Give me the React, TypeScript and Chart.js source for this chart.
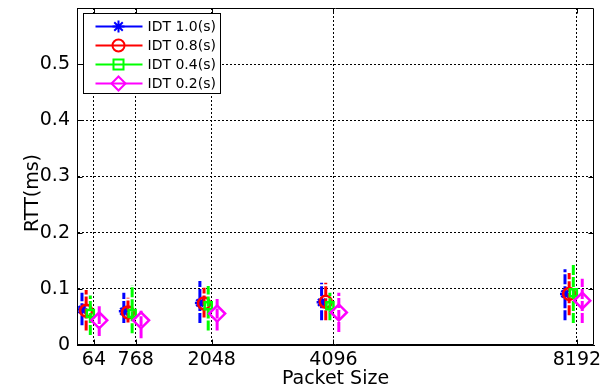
import React, { useEffect, useRef } from 'react';
import { Chart, registerables } from 'chart.js';

Chart.register(...registerables);

// ---- data ----
const packetSizes = [64, 768, 2048, 4096, 8192];
const xTickValues = [64, 768, 2048, 4096, 8192];
const yTickValues = [0, 0.1, 0.2, 0.3, 0.4, 0.5];
const seriesLabels = ['IDT 1.0(s)', 'IDT 0.8(s)', 'IDT 0.4(s)', 'IDT 0.2(s)'];
const seriesShift = [-200, -130, -60, 90];
const xTitle = 'Packet Size';
const yTitle = 'RTT(ms)';

const idt10Mean = [0.063, 0.060, 0.075, 0.076, 0.091];
const idt10Low = [0.035, 0.039, 0.039, 0.044, 0.044];
const idt10High = [0.093, 0.093, 0.114, 0.111, 0.135];

const idt08Mean = [0.061, 0.058, 0.074, 0.077, 0.091];
const idt08Low = [0.026, 0.040, 0.049, 0.044, 0.053];
const idt08High = [0.098, 0.084, 0.102, 0.111, 0.128];

const idt04Mean = [0.056, 0.056, 0.070, 0.070, 0.093];
const idt04Low = [0.018, 0.021, 0.026, 0.044, 0.039];
const idt04High = [0.088, 0.107, 0.105, 0.093, 0.144];

const idt02Mean = [0.044, 0.044, 0.056, 0.058, 0.079];
const idt02Low = [0.016, 0.012, 0.026, 0.023, 0.039];
const idt02High = [0.069, 0.061, 0.082, 0.093, 0.118];

const seriesMeans = [idt10Mean, idt08Mean, idt04Mean, idt02Mean];
const seriesLows = [idt10Low, idt08Low, idt04Low, idt02Low];
const seriesHighs = [idt10High, idt08High, idt04High, idt02High];

// ---- styles ----
const colors = ['#0000ff', '#ff0000', '#00ff00', '#ff00ff'];
const pointStyles = ['star', 'circle', 'rect', 'rectRot'];
const pointSizes = [5, 6, 5, 8];
const FONT = "'DejaVu Sans', 'Liberation Sans', Arial, sans-serif";

function drawMarker(ctx: CanvasRenderingContext2D, style: string, x: number, y: number, r: number) {
  ctx.beginPath();
  if (style === 'star') {
    ctx.moveTo(x - r, y); ctx.lineTo(x + r, y);
    ctx.moveTo(x, y - r); ctx.lineTo(x, y + r);
    const d = r * 0.7071;
    ctx.moveTo(x - d, y - d); ctx.lineTo(x + d, y + d);
    ctx.moveTo(x - d, y + d); ctx.lineTo(x + d, y - d);
  } else if (style === 'circle') {
    ctx.arc(x, y, r, 0, Math.PI * 2);
  } else if (style === 'rect') {
    ctx.rect(x - r, y - r, 2 * r, 2 * r);
  } else {
    ctx.moveTo(x, y - r); ctx.lineTo(x + r, y); ctx.lineTo(x, y + r); ctx.lineTo(x - r, y); ctx.closePath();
  }
  ctx.stroke();
}

const noPadding = () => ({ left: 0, top: 0, right: 0, bottom: 0 });

const framePlugin = {
  id: 'matlabFrame',
  afterDatasetsDraw(chart: any) {
    const { ctx, chartArea, scales } = chart;
    const { left, right, top, bottom } = chartArea;
    ctx.save();
    ctx.strokeStyle = '#000';
    ctx.lineWidth = 1;
    ctx.setLineDash([]);
    const L = Math.round(left) + 0.5, R = Math.round(right) - 0.5;
    const T = Math.round(top) + 0.5, B = Math.round(bottom) - 0.5;
    ctx.beginPath();
    ctx.moveTo(L, T); ctx.lineTo(R, T); ctx.lineTo(R, B); ctx.lineTo(L, B); ctx.closePath();
    const tl = 5;
    xTickValues.forEach((v) => {
      const px = Math.round(scales.x.getPixelForValue(v)) + 0.5;
      ctx.moveTo(px, B); ctx.lineTo(px, B - tl);
      ctx.moveTo(px, T); ctx.lineTo(px, T + tl);
    });
    yTickValues.forEach((v) => {
      const py = Math.round(scales.y.getPixelForValue(v)) + 0.5;
      ctx.moveTo(L, py); ctx.lineTo(L + tl, py);
      ctx.moveTo(R, py); ctx.lineTo(R - tl, py);
    });
    ctx.stroke();
    ctx.restore();
  },
  afterDraw(chart: any) {
    const { ctx, chartArea } = chart;
    ctx.save();
    // y axis title
    ctx.fillStyle = '#000';
    ctx.font = `19px ${FONT}`;
    ctx.textAlign = 'center';
    ctx.textBaseline = 'middle';
    ctx.translate(33, 193);
    ctx.rotate(-Math.PI / 2);
    ctx.fillText(yTitle, 0, 0);
    ctx.restore();

    // legend
    const bx = Math.round(chartArea.left) + 6.5;
    const by = Math.round(chartArea.top) + 5.5;
    const bw = 137, bh = 80;
    ctx.save();
    ctx.fillStyle = '#fff';
    ctx.fillRect(bx, by, bw, bh);
    ctx.strokeStyle = '#000';
    ctx.lineWidth = 1;
    ctx.setLineDash([]);
    ctx.strokeRect(bx, by, bw, bh);
    ctx.font = `14px ${FONT}`;
    ctx.textBaseline = 'middle';
    ctx.textAlign = 'left';
    seriesLabels.forEach((lab, i) => {
      const y = by + 13 + i * 19;
      ctx.strokeStyle = colors[i];
      ctx.lineWidth = 2;
      ctx.beginPath();
      ctx.moveTo(bx + 12, y); ctx.lineTo(bx + 59, y);
      ctx.stroke();
      drawMarker(ctx, pointStyles[i], bx + 35, y, [6, 6, 5, 7][i]);
      ctx.fillStyle = '#000';
      ctx.fillText(lab, bx + 64, y + 1);
    });
    ctx.restore();
  },
};

export default function App() {
  const canvasRef = useRef<HTMLCanvasElement | null>(null);

  useEffect(() => {
    const canvas = canvasRef.current;
    if (!canvas) return;

    const datasets: any[] = [];
    seriesLabels.forEach((lab, s) => {
      const barData: any[] = [];
      packetSizes.forEach((p, i) => {
        const xv = p + seriesShift[s];
        barData.push({ x: xv, y: seriesLows[s][i] });
        barData.push({ x: xv, y: seriesHighs[s][i] });
        barData.push({ x: xv, y: null });
      });
      datasets.push({
        label: lab + ' error',
        data: barData,
        borderColor: colors[s],
        borderWidth: 3,
        borderDash: [10, 2],
        pointRadius: 0,
        spanGaps: false,
        fill: false,
        order: 8 - s * 2,
      });
      datasets.push({
        label: lab,
        data: packetSizes.map((p, i) => ({ x: p + seriesShift[s], y: seriesMeans[s][i] })),
        showLine: false,
        borderColor: colors[s],
        backgroundColor: 'rgba(0,0,0,0)',
        pointStyle: pointStyles[s],
        pointRadius: pointSizes[s],
        pointBorderWidth: 2.5,
        pointBorderColor: colors[s],
        pointBackgroundColor: 'rgba(0,0,0,0)',
        order: 7 - s * 2,
      });
    });

    const tickFont = { family: FONT, size: 19 };
    const chart = new Chart(canvas, {
      type: 'line',
      data: { datasets },
      plugins: [framePlugin],
      options: {
        animation: false,
        responsive: false,
        devicePixelRatio: 1,
        layout: { autoPadding: false, padding: { top: 8, right: 9, left: 0, bottom: 0 } },
        plugins: { legend: { display: false }, tooltip: { enabled: false } },
        scales: {
          x: {
            type: 'linear',
            min: -220,
            max: 8480,
            afterBuildTicks: (s: any) => { s.ticks = xTickValues.map((v) => ({ value: v })); },
            afterFit: (s: any) => { s.height = 45; s.paddingLeft = 0; s.paddingRight = 0; s.getPadding = noPadding; },
            ticks: { color: '#000', font: tickFont, padding: 4, maxRotation: 0, autoSkip: false, callback: (v: any) => String(v) },
            grid: { color: '#000', lineWidth: 1, drawTicks: false },
            border: { display: true, color: '#000', width: 1, dash: [2, 2] },
            title: { display: true, text: xTitle, color: '#000', font: tickFont, padding: { top: 0, bottom: 0 } },
          },
          y: {
            type: 'linear',
            min: 0,
            max: 0.6,
            afterBuildTicks: (s: any) => { s.ticks = yTickValues.map((v) => ({ value: v })); },
            afterFit: (s: any) => { s.width = 77; s.paddingTop = 0; s.paddingBottom = 0; s.getPadding = noPadding; },
            ticks: { color: '#000', font: tickFont, padding: 7, callback: (v: any) => String(v) },
            grid: { color: '#000', lineWidth: 1, drawTicks: false },
            border: { display: true, color: '#000', width: 1, dash: [2, 2] },
            title: { display: false },
          },
        },
      } as any,
    });
    return () => chart.destroy();
  }, []);

  return (
    <div style={{ position: 'fixed', left: 0, top: 0, width: 603, height: 390, background: '#fff' }}>
      <canvas ref={canvasRef} width={603} height={390} style={{ display: 'block', width: 603, height: 390 }} />
    </div>
  );
}
